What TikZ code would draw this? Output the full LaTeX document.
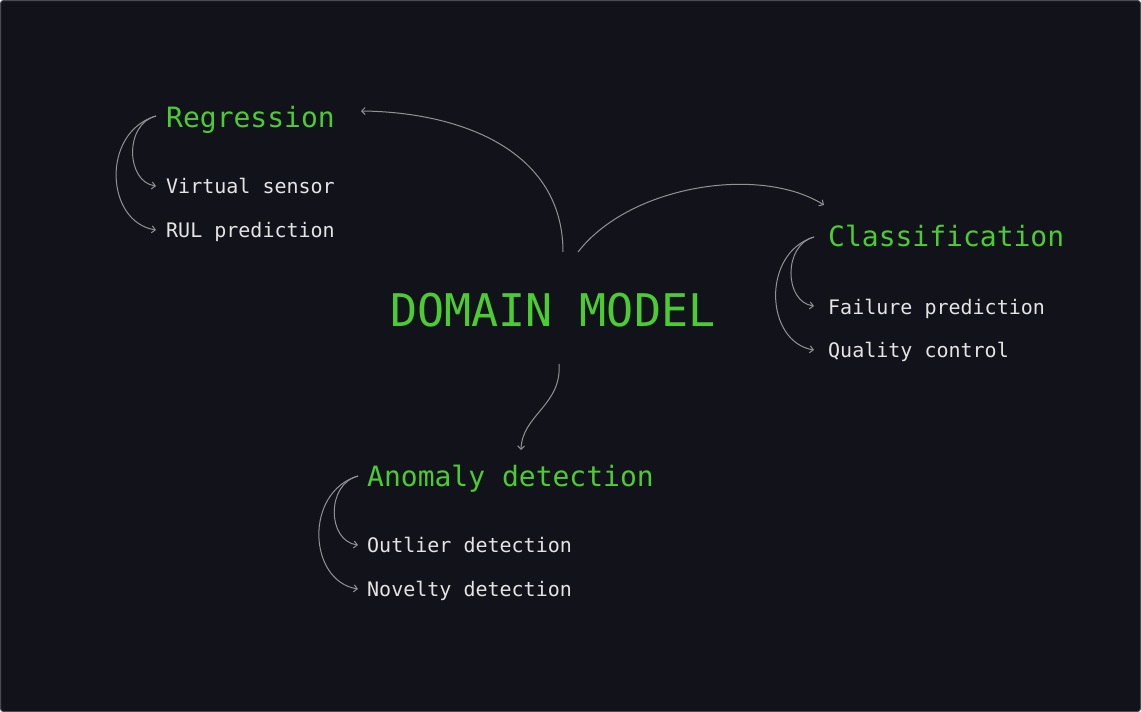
\documentclass[tikz,border=0pt]{standalone}
\usepackage{fontspec}
\setmonofont{DejaVu Sans Mono}
\usetikzlibrary{arrows.meta}
\definecolor{bgc}{HTML}{12121A}
\definecolor{framec}{HTML}{4A4A52}
\definecolor{grn}{HTML}{4CCC33}
\definecolor{txt}{HTML}{E4E4E4}
\definecolor{linec}{HTML}{929296}
\tikzset{
  head/.style={anchor=base west,inner sep=0pt,text=grn,font=\ttfamily\fontsize{28}{30}\selectfont},
  item/.style={anchor=base west,inner sep=0pt,text=txt,font=\ttfamily\fontsize{20}{22}\selectfont},
  title/.style={anchor=base west,inner sep=0pt,text=grn,font=\ttfamily\fontsize{45}{48}\selectfont},
  conn/.style={draw=linec,line width=1pt,-{Straight Barb[length=3.5pt,width=7pt]}},
}
\begin{document}
\begin{tikzpicture}[x=1pt,y=-1pt]
\useasboundingbox (0,0) rectangle (1141,712);
\fill[bgc,draw=framec,line width=1pt,rounded corners=3pt] (0.5,0.5) rectangle (1140.5,711.5);

\node[title] (dm) at (390,326) {DOMAIN MODEL};

\node[head] (reg) at (166,127) {Regression};
\node[item] (vs) at (166,193) {Virtual sensor};
\node[item] (rul) at (166,237) {RUL prediction};

\node[head] (cls) at (828,246) {Classification};
\node[item] (fp) at (828,314) {Failure prediction};
\node[item] (qc) at (828,357) {Quality control};

\node[head] (ano) at (367,486) {Anomaly detection};
\node[item] (od) at (367,552) {Outlier detection};
\node[item] (nd) at (367,596) {Novelty detection};

% main connectors
\coordinate (s1) at (563,252);
\coordinate (e1) at (361,111);
\coordinate (s2) at (578,252);
\coordinate (e2) at (824,205);
\coordinate (s3) at (559,364);
\coordinate (e3) at (521,450);
\draw[conn] (s1) .. controls (563,150) and (460,112) .. (e1);
\draw[conn] (s2) .. controls (630,185) and (760,165) .. (e2);
\draw[conn] (s3) .. controls (562,405) and (522,415) .. (e3);

% sub connectors
\coordinate (r0) at (156,116);
\coordinate (r1) at (156,186);
\coordinate (r2) at (156,230);
\draw[conn] (r0) .. controls (124,124) and (126,182) .. (r1);
\draw[conn] (r0) .. controls (101,132) and (105,222) .. (r2);

\coordinate (c0) at (814,237);
\coordinate (c1) at (814,306);
\coordinate (c2) at (814,350);
\draw[conn] (c0) .. controls (783,245) and (784,302) .. (c1);
\draw[conn] (c0) .. controls (761,253) and (765,342) .. (c2);

\coordinate (a0) at (358,476);
\coordinate (a1) at (358,545);
\coordinate (a2) at (358,589);
\draw[conn] (a0) .. controls (326,484) and (327,541) .. (a1);
\draw[conn] (a0) .. controls (304,492) and (308,581) .. (a2);
\end{tikzpicture}
\end{document}
